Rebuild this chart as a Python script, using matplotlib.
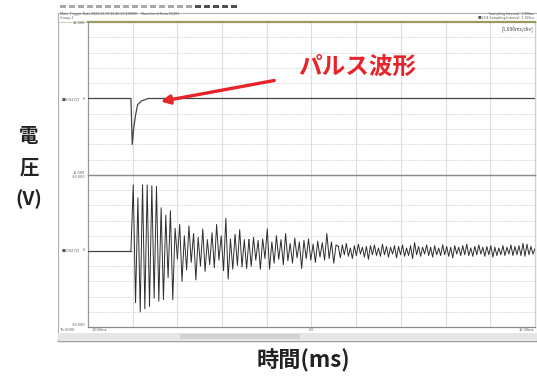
import numpy as np
import matplotlib
matplotlib.use("Agg")
import matplotlib.pyplot as plt
from matplotlib.patches import Rectangle, FancyArrowPatch

plt.rcParams['font.family'] = ['Noto Sans CJK JP', 'DejaVu Sans']

# ---------------- data ----------------
# Upper channel (pulse), time in ms, voltage in V
pulse_t = [0.0, 0.96, 0.99, 1.02, 1.06, 1.11, 1.20, 1.35, 10.0]
pulse_v = [0.0, 0.0, -6.0, -4.0, -2.3, -0.8, -0.3, 0.0, 0.0]

# Lower channel (response) given as segments: (start ms, end ms) and extremum values
resp_pre_t = [0.0, 0.96]
resp_pre_v = [0.0, 0.0]
resp_segments = [(0.96, 2.0), (2.0, 3.6), (3.6, 5.6), (5.6, 10.0)]
resp_seg_a = [0, 8.7, -6.8, 7.0, -8.0, 8.7, -7.6, 8.7, -7.3, 8.6, -6.2, 8.5, -6.6,
              5.7, -6.4, 4.7, -3.5, 5.3, -6.4, 3.0, -1.0]
resp_seg_b = [-1.0, 3.5, -4.0, 2.0, -2.5, 3.3, -1.5, 2.3, -3.8, 1.8, -2.0, 2.9, -2.7,
              1.5, -1.8, 2.4, -2.2, 3.5, -1.2, 2.0, -2.6, 4.3, -3.7, 1.6, -2.4, 2.2,
              -1.9, 2.8, -2.1, 1.5, -2.3, 1.5]
resp_seg_c = [1.5, -2.0, 1.8, -1.2, 1.4, -2.4, 1.6, -1.0, 2.9, -2.4, 1.2, -1.6, 2.0,
              -1.1, 1.5, -1.8, 2.3, -1.3, 1.0, -1.6, 1.7, -0.9, 1.2, -2.3, 1.4, -1.0,
              1.6, -1.2, 0.9, -1.5, 1.3, -0.8, 1.1, -1.2, 2.3, -1.0, 1.2, -1.6, 0.8, 0.6]
resp_seg_d = [0.6, -0.9, 0.8, -0.5, 1.0, -0.7, 0.4, -1.0, 0.7, -0.6,
              0.9, -0.4, 0.5, -0.8, 0.6, -1.1, 0.7, -0.5, 0.8, -0.6,
              0.4, -0.7, 0.9, -0.5, 0.6, -0.8, 0.5, -0.4, 0.7, -0.9,
              0.6, -0.5, 0.8, -0.7, 0.4, -0.6, 0.7, -1.0, 1.1, -0.5,
              0.6, -0.7, 0.5, -0.4, 0.8, -0.6, 0.5, -0.8, 0.7, -0.5,
              0.4, -0.6, 0.8, -0.5, 0.6, -0.7, 0.5, -0.9, 0.7, -0.4,
              0.5, -0.6, 0.7, -0.5, 0.9, -0.6, 0.4, -0.7, 0.6, -0.5,
              0.8, -0.4, 0.5, -0.7, 0.6, -0.5, 0.7, -0.8, 0.5, -0.6,
              0.4, -0.5, 0.7, -0.6, 0.5, -0.4, 0.8, -0.6, 0.6, -0.5,
              0.7, -0.6, 1.0, -0.7, 0.9, -0.5, 0.6, -0.4, 0.3]
resp_values = [resp_seg_a, resp_seg_b, resp_seg_c, resp_seg_d]

x_divs = list(range(0, 11))          # 1.000 ms/div
y_dotted = [-8, -6, -4, -2, 2, 4, 6, 8]

annot_text = "パルス波形"
ylabel_chars = ["電", "圧", "(V)"]
xlabel_text = "時間(ms)"

# ---------------- figure ----------------
W, H = 537, 376
fig = plt.figure(figsize=(W / 100, H / 100), dpi=100)
fig.patch.set_facecolor('white')
bg = fig.add_axes([0, 0, 1, 1])
bg.set_xlim(0, W)
bg.set_ylim(H, 0)
bg.axis('off')


def ax_rect(x0, y0, x1, y1):
    return [x0 / W, 1 - y1 / H, (x1 - x0) / W, (y1 - y0) / H]


# window frame
bg.add_patch(Rectangle((58, 12.5), 479, 328, fill=False, ec='#b0b0b0', lw=0.8))
bg.plot([58, 537], [21.5, 21.5], color='#c8c8a0', lw=0.6)
# toolbar icons
for i, x in enumerate(np.arange(60, 240, 9)):
    col = '#505050' if x > 190 else '#a8a8a8'
    bg.add_patch(Rectangle((x, 4.5), 6, 3, color=col, lw=0))
# header text
bg.text(60, 14.5, "Main  Trigger Date 2022/01/06 10:45:23.474000      Number of Data 10,001",
        fontsize=2.6, color='#555555', va='center', ha='left')
bg.text(60, 18.0, "Group 1", fontsize=2.6, color='#555555', va='center', ha='left')
bg.text(534, 14.5, "Sampling Interval   1.000us", fontsize=2.6, color='#555555', va='center', ha='right')
bg.text(534, 18.0, "■CH1 Sampling Interval   1.000us", fontsize=2.6, color='#555555', va='center', ha='right')

# left panel labels
bg.text(85, 23.5, "10.000", fontsize=2.8, color='#555555', ha='right', va='center')
bg.text(62, 99.5, "■CH1 [V]", fontsize=2.8, color='#555555', ha='left', va='center')
bg.text(85, 99.5, "0", fontsize=2.8, color='#555555', ha='right', va='center')
bg.text(85, 173.5, "10.000", fontsize=2.8, color='#555555', ha='right', va='center')
bg.text(85, 177.0, "-10.000", fontsize=2.8, color='#555555', ha='right', va='center')
bg.text(62, 250, "■CH2 [V]", fontsize=2.8, color='#555555', ha='left', va='center')
bg.text(85, 250, "0", fontsize=2.8, color='#555555', ha='right', va='center')
bg.text(85, 325, "-10.000", fontsize=2.8, color='#555555', ha='right', va='center')
bg.text(60, 330, "Tb-0000", fontsize=2.8, color='#555555', ha='left', va='center')
bg.text(92, 330, "1.000ms", fontsize=2.8, color='#555555', ha='left', va='center')
bg.text(312, 330, "5.0", fontsize=2.8, color='#555555', ha='center', va='center')
bg.text(534, 330, "10.00ms", fontsize=2.8, color='#555555', ha='right', va='center')
# scrollbar
bg.add_patch(Rectangle((58, 333), 479, 7, color='#e6e6e6', lw=0))
bg.add_patch(Rectangle((180, 334), 120, 5, color='#d2d2d2', lw=0))
bg.plot([58, 537], [341, 341], color='#a0a0a0', lw=1.0)

# channel axes
PX0, PX1 = 88, 535
ax_up = fig.add_axes(ax_rect(PX0, 22, PX1, 175))
ax_lo = fig.add_axes(ax_rect(PX0, 175, PX1, 327))
for ax in (ax_up, ax_lo):
    ax.set_xlim(0, 10)
    ax.set_ylim(-10, 10)
    ax.set_xticks([])
    ax.set_yticks([])
    ax.set_facecolor('none')
    for k in x_divs[1:-1]:
        ax.axvline(k, color='#dedede', lw=0.8, zorder=1)
    for yv in y_dotted:
        ax.axhline(yv, color='#c4c4c4', lw=0.6, ls=(0, (1.2, 1.6)), zorder=1)
    ax.spines['left'].set_color('#9a9a9a')
    ax.spines['right'].set_color('#d0d0d0')
    ax.spines['bottom'].set_color('#8a8a8a')
    ax.spines['top'].set_color('#8a8a8a')
    for s in ax.spines.values():
        s.set_linewidth(0.9)
ax_up.spines['top'].set_color('#9a9a60')
ax_up.spines['top'].set_linewidth(1.6)

ax_up.plot(pulse_t, pulse_v, color='#444444', lw=0.9, zorder=3)

ax_lo.plot(resp_pre_t, resp_pre_v, color='#444444', lw=0.9, zorder=3)
for (t0, t1), vals in zip(resp_segments, resp_values):
    tt = np.linspace(t0, t1, len(vals))
    ax_lo.plot(tt, vals, color='#2e2e2e', lw=0.7, zorder=3)

ax_up.text(9.97, 9.0, "[1.000ms/div]", fontsize=3.6, color='#444444', ha='right', va='center')

# overlay for annotation (drawn above the channel axes)
ov = fig.add_axes([0, 0, 1, 1])
ov.set_xlim(0, W)
ov.set_ylim(H, 0)
ov.axis('off')
ov.text(357, 67, annot_text, fontsize=17, fontweight='bold', color='#e8242b',
        ha='center', va='center')
arr = FancyArrowPatch((277, 80), (158, 102), arrowstyle='-|>', mutation_scale=13,
                      color='#e8242b', lw=2.4, zorder=5)
ov.add_patch(arr)

# axis titles
for ch, yy in zip(ylabel_chars, [136, 168, 199]):
    ov.text(29, yy, ch, fontsize=14, fontweight='bold', color='#222222',
            ha='center', va='center')
ov.text(303, 361, xlabel_text, fontsize=16, fontweight='bold', color='#222222',
        ha='center', va='center')

fig.savefig("out.png", dpi=100)
